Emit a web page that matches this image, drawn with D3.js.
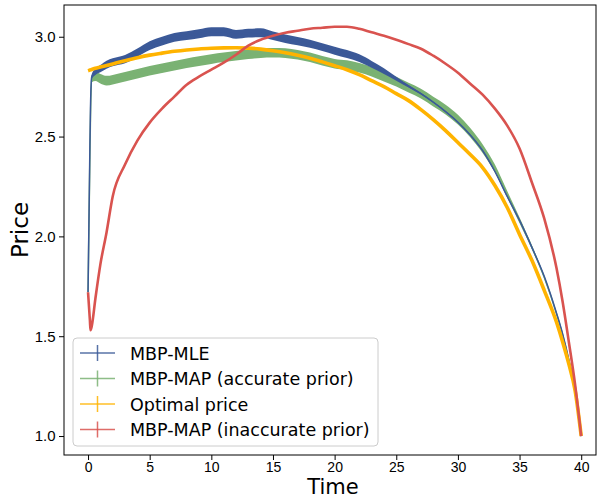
<!DOCTYPE html>
<html>
<head>
<meta charset="utf-8">
<script src="https://cdn.jsdelivr.net/npm/d3@7"></script>
<style>
  body { margin: 0; background: #fff; }
  svg { font-family: "DejaVu Sans", sans-serif; }
  .tick text { fill: #000; }
  .x-axis .tick text { font-size: 14px; }
  .y-axis .tick text { font-size: 15px; }
  .tick line { stroke: #000; }
</style>
</head>
<body>
<svg></svg>
<script>
//data
var times = [0, 0.15, 0.2, 0.3, 0.6, 1, 1.5, 2, 3, 4, 5, 6, 7, 8, 9, 10, 11, 12, 13, 14, 15, 16, 17, 18, 19, 20,
  21, 22, 23, 24, 25, 26, 27, 28, 29, 30, 31, 32, 33, 34, 35, 36, 37, 38, 38.5, 39, 39.5, 40];

var priceMLE = [1.72, 2.45, 2.65, 2.80, 2.825, 2.84, 2.86, 2.872, 2.888, 2.92, 2.955, 2.978, 2.997, 3.006, 3.015, 3.025,
  3.025, 3.012, 3.018, 3.02, 3.005, 2.99, 2.978, 2.965, 2.948, 2.93, 2.913, 2.893, 2.862, 2.828, 2.79, 2.752,
  2.715, 2.672, 2.625, 2.572, 2.508, 2.43, 2.325, 2.2, 2.08, 1.945, 1.80, 1.615, 1.51, 1.38, 1.22, 1.0];
var errMLE = [0.004, 0.008, 0.01, 0.012, 0.016, 0.018, 0.02, 0.02, 0.021, 0.021, 0.022, 0.022, 0.022, 0.022, 0.022, 0.022,
  0.022, 0.022, 0.022, 0.022, 0.021, 0.021, 0.021, 0.02, 0.02, 0.02, 0.02, 0.019, 0.017, 0.014, 0.01, 0.006,
  0.004, 0.003, 0.003, 0.003, 0.003, 0.003, 0.003, 0.003, 0.003, 0.003, 0.002, 0.002, 0.002, 0.002, 0.002, 0.001];

var priceMAP = [1.72, 2.4, 2.6, 2.79, 2.80, 2.79, 2.78, 2.785, 2.80, 2.815, 2.83, 2.842, 2.855, 2.867, 2.878, 2.888,
  2.897, 2.905, 2.912, 2.918, 2.92, 2.918, 2.91, 2.897, 2.88, 2.865, 2.858, 2.845, 2.825, 2.80, 2.775, 2.745,
  2.715, 2.675, 2.635, 2.585, 2.52, 2.44, 2.34, 2.21, 2.08, 1.945, 1.795, 1.612, 1.505, 1.377, 1.22, 1.0];
var errMAP = [0.004, 0.01, 0.014, 0.018, 0.022, 0.024, 0.024, 0.024, 0.024, 0.024, 0.024, 0.024, 0.024, 0.024, 0.024, 0.024,
  0.024, 0.024, 0.024, 0.024, 0.024, 0.024, 0.024, 0.024, 0.024, 0.024, 0.024, 0.024, 0.024, 0.024, 0.024, 0.024,
  0.024, 0.024, 0.024, 0.024, 0.023, 0.022, 0.02, 0.017, 0.014, 0.01, 0.007, 0.005, 0.004, 0.003, 0.002, 0.001];

var priceOpt = [2.830, 2.833, 2.834, 2.836, 2.842, 2.848, 2.856, 2.864, 2.880, 2.895, 2.908, 2.918, 2.927, 2.934, 2.939, 2.942,
  2.944, 2.945, 2.943, 2.938, 2.930, 2.920, 2.907, 2.892, 2.874, 2.855, 2.835, 2.81, 2.78, 2.75, 2.715, 2.68,
  2.635, 2.585, 2.53, 2.47, 2.41, 2.345, 2.255, 2.145, 2.01, 1.88, 1.73, 1.57, 1.47, 1.36, 1.23, 1.0];

var priceBadPrior = [1.72, 1.58, 1.53, 1.55, 1.69, 1.86, 2.02, 2.20, 2.36, 2.48, 2.57, 2.64, 2.70, 2.76, 2.80, 2.835,
  2.87, 2.91, 2.955, 2.985, 3.005, 3.02, 3.03, 3.04, 3.045, 3.05, 3.05, 3.04, 3.022, 3.005, 2.985, 2.963,
  2.94, 2.905, 2.865, 2.82, 2.765, 2.71, 2.64, 2.555, 2.44, 2.27, 2.09, 1.84, 1.67, 1.47, 1.26, 1.0];

var seriesNames = ["MBP-MLE", "MBP-MAP (accurate prior)", "Optimal price", "MBP-MAP (inaccurate prior)"];
var seriesColors = ["#3b5998", "#7ab273", "#ffb300", "#d9534f"];

var xTicks = [0, 5, 10, 15, 20, 25, 30, 35, 40];
var yTicks = [1.0, 1.5, 2.0, 2.5, 3.0];

//layout conf.
var svgWidth = 597,
    svgHeight = 499,
    plot = {left: 64, right: 596, top: 5, bottom: 455};

var x = d3.scaleLinear().domain([-1.95, 41.2]).range([plot.left, plot.right]);
var y = d3.scaleLinear().domain([0.905, 3.159]).range([plot.bottom, plot.top]);

var svg = d3.select("svg")
  .attr("width", svgWidth)
  .attr("height", svgHeight);

svg.append("clipPath").attr("id", "clip")
  .append("rect")
  .attr("x", plot.left).attr("y", plot.top)
  .attr("width", plot.right - plot.left).attr("height", plot.bottom - plot.top);

var marks = svg.append("g").attr("clip-path", "url(#clip)");

function band(values, errs) {
  return d3.area()
    .curve(d3.curveMonotoneX)
    .x(function(d, i) { return x(times[i]); })
    .y0(function(d, i) { return y(values[i] - errs[i]); })
    .y1(function(d, i) { return y(values[i] + errs[i]); })
    (times);
}

function line(values) {
  return d3.line()
    .curve(d3.curveMonotoneX)
    .x(function(d, i) { return x(times[i]); })
    .y(function(d, i) { return y(values[i]); })
    (times);
}

// error bands first, then mean lines
marks.append("path").attr("d", band(priceMAP, errMAP)).attr("fill", seriesColors[1]);
marks.append("path").attr("d", line(priceMAP)).attr("fill", "none")
  .attr("stroke", seriesColors[1]).attr("stroke-width", 1.5);
marks.append("path").attr("d", band(priceMLE, errMLE)).attr("fill", seriesColors[0]);
marks.append("path").attr("d", line(priceMLE)).attr("fill", "none")
  .attr("stroke", seriesColors[0]).attr("stroke-width", 1.5);

marks.append("path").attr("d", line(priceOpt)).attr("fill", "none")
  .attr("stroke", seriesColors[2]).attr("stroke-width", 3.6);

marks.append("path").attr("d", line(priceBadPrior)).attr("fill", "none")
  .attr("stroke", seriesColors[3]).attr("stroke-width", 2.6)
  .attr("stroke-linejoin", "round");

// axes
svg.append("g")
  .classed("x-axis", true)
  .attr("transform", "translate(0," + plot.bottom + ")")
  .call(d3.axisBottom(x).tickValues(xTicks).tickSize(5).tickPadding(2.5).tickFormat(d3.format("d")))
  .call(function(g) { g.select(".domain").remove(); });

svg.append("g")
  .classed("y-axis", true)
  .attr("transform", "translate(" + plot.left + ",0)")
  .call(d3.axisLeft(y).tickValues(yTicks).tickSize(5).tickPadding(3.5).tickFormat(d3.format(".1f")))
  .call(function(g) { g.select(".domain").remove(); });

svg.append("rect")
  .attr("x", plot.left).attr("y", plot.top)
  .attr("width", plot.right - plot.left).attr("height", plot.bottom - plot.top)
  .attr("fill", "none").attr("stroke", "#000").attr("stroke-width", 1);

svg.append("text")
  .attr("x", 333).attr("y", 494)
  .attr("text-anchor", "middle").style("font-size", "21px")
  .text("Time");

svg.append("text")
  .attr("transform", "translate(28," + (plot.top + plot.bottom) / 2 + ") rotate(-90)")
  .attr("text-anchor", "middle").style("font-size", "23px")
  .text("Price");

// legend
var legend = svg.append("g").attr("transform", "translate(73,338)");
legend.append("rect")
  .attr("width", 305).attr("height", 108).attr("rx", 4)
  .attr("fill", "#fff").attr("fill-opacity", 0.8)
  .attr("stroke", "#ccc").attr("stroke-width", 1);

var items = legend.selectAll(".item")
  .data(seriesNames)
  .enter()
  .append("g")
  .classed("item", true)
  .attr("transform", function(d, i) { return "translate(0," + (15 + i * 25.5) + ")"; });

items.append("line")
  .attr("x1", 7).attr("x2", 42).attr("y1", 0).attr("y2", 0)
  .attr("stroke", function(d, i) { return seriesColors[i]; })
  .attr("stroke-opacity", 0.85).attr("stroke-width", 1.5);
items.append("line")
  .attr("x1", 24.5).attr("x2", 24.5).attr("y1", -8).attr("y2", 8)
  .attr("stroke", function(d, i) { return seriesColors[i]; })
  .attr("stroke-opacity", 0.85).attr("stroke-width", 1.5);
items.append("text")
  .attr("x", 57).attr("y", 6.5)
  .style("font-size", "17.5px")
  .text(function(d) { return d; });
</script>
</body>
</html>
